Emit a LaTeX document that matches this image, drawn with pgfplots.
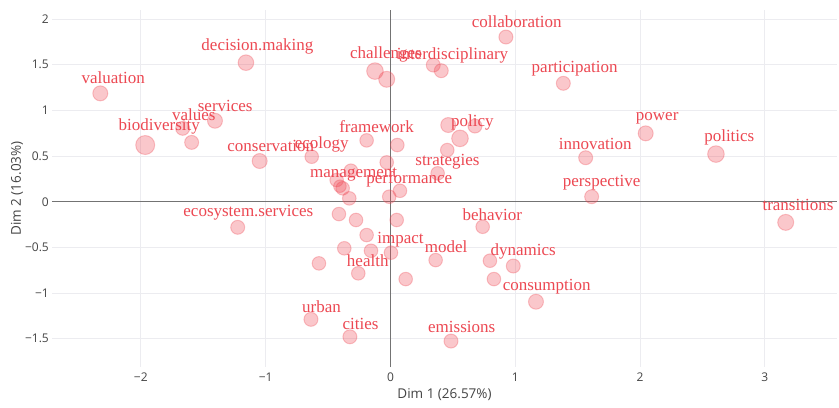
\documentclass[border=0pt]{standalone}
\usepackage{pgfplots}
\pgfplotsset{compat=1.18}
\usepackage{fontspec}
\setmainfont{Open Sans}
\newfontfamily\lblfont{Liberation Serif}
\definecolor{ptred}{RGB}{238,70,82}
\definecolor{lblred}{RGB}{236,72,82}
\definecolor{tickgray}{RGB}{68,68,68}
\definecolor{gridgray}{RGB}{236,236,240}
\definecolor{zerogray}{RGB}{115,115,115}
\begin{document}
\begin{tikzpicture}
\begin{axis}[
  scale only axis,
  width=785bp, height=357bp,
  xmin=-2.712, xmax=3.578,
  ymin=-1.81, ymax=2.10,
  clip=false,
  axis line style={draw=none},
  major tick length=0pt,
  xtick={-2,-1,0,1,2,3},
  xticklabels={−2,−1,0,1,2,3},
  ytick={-1.5,-1,-0.5,0,0.5,1,1.5,2},
  yticklabels={−1.5,−1,−0.5,0,0.5,1,1.5,2},
  grid=major,
  major grid style={draw=gridgray, line width=0.8bp},
  extra x ticks={0}, extra x tick labels={},
  extra y ticks={0}, extra y tick labels={},
  extra tick style={grid=major, major grid style={draw=zerogray, line width=1.4bp}},
  tick label style={font=\fontsize{12bp}{14bp}\selectfont, text=tickgray},
  yticklabel style={anchor=east, inner sep=0pt, xshift=-3bp},
  xticklabel style={anchor=center, inner sep=0pt, yshift=-10bp},
  xlabel={Dim 1 (26.57\%)},
  ylabel={Dim 2 (16.03\%)},
  every axis x label/.style={at={(axis description cs:0.5,-0.0784)}, anchor=center,
    font=\fontsize{13.5bp}{16bp}\selectfont, text=tickgray},
  every axis y label/.style={at={(axis description cs:-0.0446,0.5)}, anchor=center, rotate=90,
    font=\fontsize{13.5bp}{16bp}\selectfont, text=tickgray},
]
\coordinate (ll) at (rel axis cs:0,0);
\addplot[
  scatter, only marks, mark=*,
  scatter/use mapped color={draw=ptred, fill=ptred, fill opacity=0.3, draw opacity=0.3, line width=1bp},
  visualization depends on={\thisrow{r} \as \rr},
  scatter/@pre marker code/.append style={/tikz/mark size=\rr bp},
] table {
x y r
-2.325 1.187 7.5
-1.158 1.523 7.8
-1.965 0.621 9.5
-1.593 0.650 7
-1.665 0.804 7
-1.406 0.887 7.5
-1.048 0.446 7.5
-0.631 0.493 6.8
-0.191 0.672 6.8
0.055 0.621 6.8
-0.124 1.431 8.3
-0.030 1.341 8
0.343 1.497 7
0.407 1.435 7
0.925 1.804 7
1.385 1.297 7
2.045 0.749 7.5
2.608 0.522 8.3
1.564 0.482 7
1.612 0.055 7
3.167 -0.226 8
0.463 0.840 7.5
0.557 0.694 8.3
0.677 0.829 7
0.455 0.566 6.8
0.378 0.311 6.8
0.076 0.120 6.8
-0.010 0.055 6.8
-0.030 0.431 6.8
-0.317 0.340 6.8
-0.431 0.238 6.8
-0.383 0.147 6.8
-0.405 0.170 6.3
-0.330 0.037 6.8
-1.224 -0.280 7
-0.413 -0.135 6.8
-0.276 -0.200 6.8
0.050 -0.200 6.8
-0.191 -0.365 6.8
-0.370 -0.510 6.8
-0.156 -0.537 6.8
0.004 -0.558 6.8
-0.573 -0.675 6.8
-0.258 -0.784 6.8
0.122 -0.847 6.8
0.362 -0.639 6.8
-0.637 -1.288 7
-0.325 -1.479 7
0.485 -1.526 7
0.739 -0.274 6.8
0.797 -0.646 6.8
0.984 -0.704 7
0.829 -0.847 6.8
1.166 -1.095 7.5
};
\addplot[
  only marks, mark=none,
  nodes near coords, point meta=explicit symbolic,
  nodes near coords style={anchor=center, inner sep=0pt, text=lblred,
    font=\lblfont\fontsize{17bp}{20bp}\selectfont},
] table[meta=label] {
x y label
-2.221 1.358 valuation
-1.066 1.705 decision.making
-1.324 1.048 services
-1.576 0.957 values
-1.853 0.821 biodiversity
-0.959 0.613 conservation
-0.551 0.629 ecology
-0.111 0.821 framework
-0.295 0.303 management
0.151 0.249 performance
0.457 0.438 strategies
0.656 0.865 policy
-0.036 1.617 challenges
0.497 1.606 interdisciplinary
1.011 1.968 collaboration
1.476 1.453 participation
2.137 0.917 power
2.715 0.705 politics
1.641 0.632 innovation
1.692 0.208 perspective
3.265 -0.036 transitions
0.816 -0.138 behavior
0.446 -0.493 model
1.063 -0.548 dynamics
1.252 -0.931 consumption
0.571 -1.369 emissions
-1.139 -0.120 ecosystem.services
0.080 -0.419 impact
-0.182 -0.646 health
-0.553 -1.150 urban
-0.240 -1.340 cities
};
\end{axis}
\path (ll) ++(-52bp,-41bp) rectangle ++(839bp,408bp);
\end{tikzpicture}
\end{document}
